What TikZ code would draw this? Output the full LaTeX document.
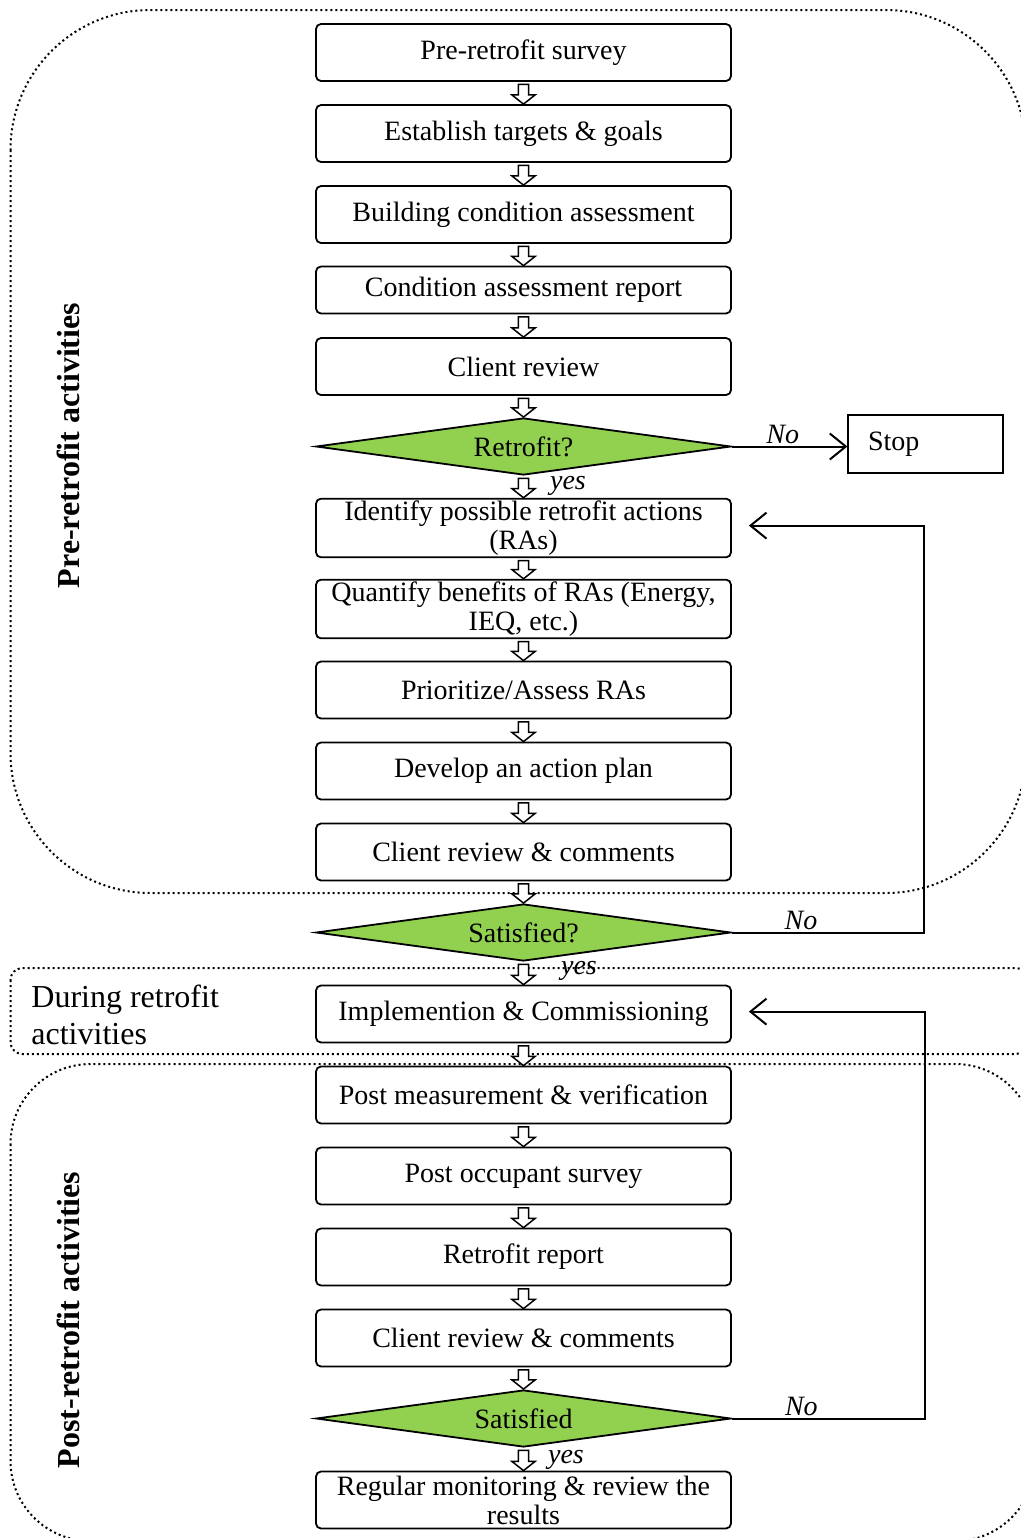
\documentclass[tikz,border=0pt]{standalone}
\usepackage{fontspec}
\setmainfont{Liberation Serif}
\usetikzlibrary{shapes.geometric,arrows.meta,calc}
\definecolor{leafgreen}{RGB}{146,208,80}

% hollow block arrow pointing down from node #1 to node #2
\newcommand\hollowdown[2]{%
  \path[blockarrow] let \p1=(#1.south), \p2=(#2.north) in
    (\x1-2.6pt,\y1-1.2pt) -- (\x1-2.6pt,\y2+4.6pt) -- (\x1-5.8pt,\y2+4.6pt)
    -- (\x1,\y2) -- (\x1+5.8pt,\y2+4.6pt) -- (\x1+2.6pt,\y2+4.6pt)
    -- (\x1+2.6pt,\y1-1.2pt) -- cycle;}

\begin{document}
\begin{tikzpicture}[x=0.5pt,y=-0.5pt,
  boxfont/.style={font=\fontsize{14}{14.5}\selectfont},
  stepbox/.style={draw,line width=0.9pt,rounded corners=2.5pt,
    minimum width=207.5pt,minimum height=28.5pt,inner sep=1pt,
    align=center,boxfont},
  decision/.style={diamond,draw,line width=0.9pt,fill=leafgreen,
    aspect=7.3,inner sep=0pt,minimum width=207.5pt,minimum height=28.5pt,boxfont},
  blockarrow/.style={draw,fill=white,line width=0.75pt,line join=miter},
  region/.style={draw,line width=1pt,dash pattern=on 1pt off 1.5pt},
  flow/.style={draw,line width=1pt},
  barb/.style={-{Straight Barb[length=8pt,width=13pt,line width=1pt]}},
  lbl/.style={font=\itshape\fontsize{14}{14.5}\selectfont,inner sep=1pt},
  side/.style={rotate=90,font=\bfseries\fontsize{16}{18}\selectfont}]

\useasboundingbox (0,0) rectangle (1021,1538);

% dotted phase regions
\begin{scope}
  \clip (0,0) rectangle (1021,1538);
  \draw[region,rounded corners=70pt] (10.5,10) rectangle (1026,893);
  \draw[region,rounded corners=6pt] (10.5,968) rectangle (1028,1054);
  \draw[region,rounded corners=40pt] (10.5,1064) rectangle (1035,1541);
\end{scope}

% phase labels
\node[side] (prelbl) at (68,445.5) {Pre-retrofit activities};
\node[side] (postlbl) at (68,1320) {Post-retrofit activities};
\node[anchor=west,align=left,inner sep=0pt,
  font=\fontsize{16}{18.5}\selectfont] (durlbl) at (31,1015)
  {During retrofit\\activities};

% process steps
\node[stepbox] (b1) at (523.5,52.5) {Pre-retrofit survey};
\node[stepbox] (b2) at (523.5,133.5) {Establish targets \& goals};
\node[stepbox] (b3) at (523.5,214.5) {Building condition assessment};
\node[stepbox,minimum height=23.5pt] (b4) at (523.5,290) {Condition assessment report};
\node[stepbox] (b5) at (523.5,366.5) {Client review};
\node[decision] (d1) at (523.5,446.5) {Retrofit?};
\node[stepbox] (b7) at (523.5,528) {Identify possible retrofit actions\\(RAs)};
\node[stepbox] (b8) at (523.5,609) {Quantify benefits of RAs (Energy,\\IEQ, etc.)};
\node[stepbox] (b9) at (523.5,690) {Prioritize/Assess RAs};
\node[stepbox] (b10) at (523.5,771) {Develop an action plan};
\node[stepbox] (b11) at (523.5,852) {Client review \& comments};
\node[decision] (d2) at (523.5,932.5) {Satisfied?};
\node[stepbox] (b13) at (523.5,1014) {Implemention \& Commissioning};
\node[stepbox] (b14) at (523.5,1095) {Post measurement \& verification};
\node[stepbox] (b15) at (523.5,1176) {Post occupant survey};
\node[stepbox] (b16) at (523.5,1257) {Retrofit report};
\node[stepbox] (b17) at (523.5,1338) {Client review \& comments};
\node[decision] (d3) at (523.5,1418.5) {Satisfied};
\node[stepbox] (b19) at (523.5,1500) {Regular monitoring \& review the\\results};

\node[draw,line width=0.6pt,minimum width=77.5pt,minimum height=29pt,
  inner xsep=10pt,text width=57.5pt,align=left,boxfont] (stop) at (925.5,444) {Stop};

% downward flow
\hollowdown{b1}{b2}
\hollowdown{b2}{b3}
\hollowdown{b3}{b4}
\hollowdown{b4}{b5}
\hollowdown{b5}{d1}
\hollowdown{d1}{b7}
\hollowdown{b7}{b8}
\hollowdown{b8}{b9}
\hollowdown{b9}{b10}
\hollowdown{b10}{b11}
\hollowdown{b11}{d2}
\hollowdown{d2}{b13}
\hollowdown{b13}{b14}
\hollowdown{b14}{b15}
\hollowdown{b15}{b16}
\hollowdown{b16}{b17}
\hollowdown{b17}{d3}
\hollowdown{d3}{b19}

\node[lbl] (yes1) at (568,486) {yes};
\node[lbl] (yes2) at (579,971) {yes};
\node[lbl] (yes3) at (566,1460) {yes};

% decision branches
\draw[flow,barb] (d1.east) -- node[lbl,above,pos=0.44] {No} (d1.east -| stop.west);
\draw[flow,barb] (d2.east) -- node[lbl,above,pos=0.36] {No} ++(192,0)
  |- ([xshift=8.5pt,yshift=1.2pt]b7.east);
\draw[flow,barb] (d3.east) -- node[lbl,above,pos=0.36] {No} ++(193,0)
  |- ([xshift=8.5pt,yshift=1.2pt]b13.east);

\end{tikzpicture}
\end{document}
